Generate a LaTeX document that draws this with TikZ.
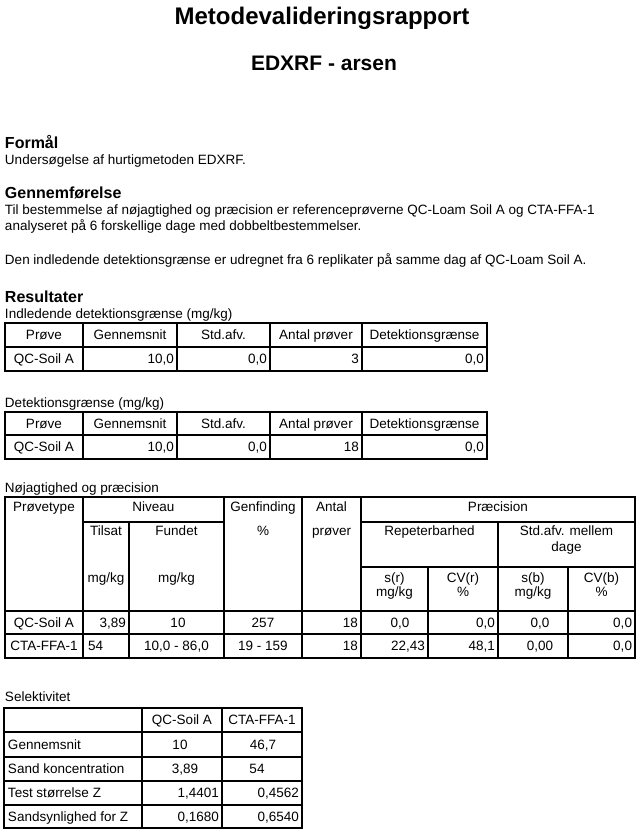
\documentclass[tikz,border=0pt]{standalone}
\usepackage{fontspec}
\setmainfont{Liberation Sans}
\begin{document}
\begin{tikzpicture}[x=1pt,y=-1pt,
  txt/.style={inner sep=0pt, outer sep=0pt, font=\fontsize{13.5}{15}\selectfont},
  body/.style={txt, anchor=base west},
  head/.style={txt, anchor=base west, font=\fontsize{16}{18}\selectfont\bfseries},
  cc/.style={txt, anchor=base},
  rr/.style={txt, anchor=base east},
  ll/.style={txt, anchor=base west},
  grid/.style={line width=1.4pt, black}]
\useasboundingbox (0,0) rectangle (641,832);

% titles
\node[txt, anchor=base, font=\fontsize{24}{28}\selectfont\bfseries] (title) at (322,25) {Metodevalideringsrapport};
\node[txt, anchor=base, font=\fontsize{21}{24}\selectfont\bfseries] (sub) at (324,71) {EDXRF - arsen};

% text
\node[head] (h1) at (5,149) {Formål};
\node[body] (b1) at (5,164) {Undersøgelse af hurtigmetoden EDXRF.};
\node[head] (h2) at (5,198) {Gennemførelse};
\node[body] (b2) at (5,214) {Til bestemmelse af nøjagtighed og præcision er referenceprøverne QC-Loam Soil A og CTA-FFA-1};
\node[body] (b3) at (5,230) {analyseret på 6 forskellige dage med dobbeltbestemmelser.};
\node[body] (b4) at (5,264) {Den indledende detektionsgrænse er udregnet fra 6 replikater på samme dag af QC-Loam Soil A.};
\node[head] (h3) at (5,302) {Resultater};
\node[body] (c1) at (5,318) {Indledende detektionsgrænse (mg/kg)};

% table 1
\draw[grid] (5,323) rectangle (487,371);
\draw[grid] (5,347) -- (487,347);
\foreach \x in {83,177,270,362} \draw[grid] (\x,323) -- (\x,371);
\node[cc] (t1a) at (44,339.5) {Prøve};
\node[cc] (t1b) at (130,339.5) {Gennemsnit};
\node[cc] (t1c) at (223.5,339.5) {Std.afv.};
\node[cc] (t1d) at (316,339.5) {Antal prøver};
\node[cc] (t1e) at (424.5,339.5) {Detektionsgrænse};
\node[cc] (t1f) at (44,363.5) {QC-Soil A};
\node[rr] (t1g) at (174,363.5) {10,0};
\node[rr] (t1h) at (267,363.5) {0,0};
\node[rr] (t1i) at (359,363.5) {3};
\node[rr] (t1j) at (484,363.5) {0,0};

% table 2
\node[body] (c2) at (5,407) {Detektionsgrænse (mg/kg)};
\draw[grid] (5,412) rectangle (487,459);
\draw[grid] (5,435) -- (487,435);
\foreach \x in {83,177,270,362} \draw[grid] (\x,412) -- (\x,459);
\node[cc] (t2a) at (44,428) {Prøve};
\node[cc] (t2b) at (130,428) {Gennemsnit};
\node[cc] (t2c) at (223.5,428) {Std.afv.};
\node[cc] (t2d) at (316,428) {Antal prøver};
\node[cc] (t2e) at (424.5,428) {Detektionsgrænse};
\node[cc] (t2f) at (44,451.5) {QC-Soil A};
\node[rr] (t2g) at (174,451.5) {10,0};
\node[rr] (t2h) at (267,451.5) {0,0};
\node[rr] (t2i) at (359,451.5) {18};
\node[rr] (t2j) at (484,451.5) {0,0};

% table 3
\node[body] (c3) at (5,492) {Nøjagtighed og præcision};
\draw[grid] (5,497) rectangle (635,658);
\draw[grid] (5,611) -- (635,611);
\draw[grid] (5,634) -- (635,634);
\draw[grid] (83,522) -- (224,522);
\draw[grid] (361,522) -- (635,522);
\draw[grid] (361,567) -- (635,567);
\foreach \x in {83,224,302,361} \draw[grid] (\x,497) -- (\x,658);
\foreach \x in {129,498} \draw[grid] (\x,522) -- (\x,658);
\foreach \x in {428,568} \draw[grid] (\x,567) -- (\x,658);
\node[cc] (n1) at (44,511) {Prøvetype};
\node[cc] (n2) at (153.5,511) {Niveau};
\node[cc] (n3) at (263,511) {Genfinding};
\node[cc] (n4) at (331.5,511) {Antal};
\node[cc] (n5) at (498,511) {Præcision};
\node[cc] (n6) at (106,535) {Tilsat};
\node[cc] (n7) at (176.5,535) {Fundet};
\node[cc] (n8) at (263,535) {\%};
\node[cc] (n9) at (331.5,535) {prøver};
\node[cc] (n10) at (429.5,535) {Repeterbarhed};
\node[cc] (n11) at (566.5,535) {Std.afv. mellem};
\node[cc] (n12) at (566.5,551) {dage};
\node[cc] (n13) at (106,582) {mg/kg};
\node[cc] (n14) at (176.5,582) {mg/kg};
\node[cc] (n15) at (394.5,582) {s(r)};
\node[cc] (n16) at (394.5,596) {mg/kg};
\node[cc] (n17) at (463,582) {CV(r)};
\node[cc] (n18) at (463,596) {\%};
\node[cc] (n19) at (533,582) {s(b)};
\node[cc] (n20) at (533,596) {mg/kg};
\node[cc] (n21) at (601.5,582) {CV(b)};
\node[cc] (n22) at (601.5,596) {\%};
% data rows
\node[cc] (d1) at (44,627) {QC-Soil A};
\node[rr] (d2) at (126,627) {3,89};
\node[cc] (d3) at (178,627) {10};
\node[cc] (d4) at (263,627) {257};
\node[rr] (d5) at (358,627) {18};
\node[cc] (d6) at (400,627) {0,0};
\node[rr] (d7) at (495,627) {0,0};
\node[cc] (d8) at (540,627) {0,0};
\node[rr] (d9) at (632,627) {0,0};
\node[cc] (e1) at (44,650.5) {CTA-FFA-1};
\node[ll] (e2) at (88,650.5) {54};
\node[cc] (e3) at (176.5,650.5) {10,0 - 86,0};
\node[cc] (e4) at (263,650.5) {19 - 159};
\node[rr] (e5) at (358,650.5) {18};
\node[rr] (e6) at (425,650.5) {22,43};
\node[rr] (e7) at (495,650.5) {48,1};
\node[cc] (e8) at (540,650.5) {0,00};
\node[rr] (e9) at (632,650.5) {0,0};

% table 4
\node[body] (c4) at (5,701) {Selektivitet};
\draw[grid] (4,708) rectangle (302,828);
\foreach \y in {732,757,781,805} \draw[grid] (4,\y) -- (302,\y);
\foreach \x in {142,222} \draw[grid] (\x,708) -- (\x,828);
\node[cc] (s1) at (182,724.5) {QC-Soil A};
\node[cc] (s2) at (262,724.5) {CTA-FFA-1};
\node[ll] (s3) at (8,749) {Gennemsnit};
\node[ll] (s4) at (8,773.5) {Sand koncentration};
\node[ll] (s5) at (8,797.5) {Test størrelse Z};
\node[ll] (s6) at (8,821) {Sandsynlighed for Z};
\node[cc] (s7) at (180,749) {10};
\node[cc] (s8) at (263,749) {46,7};
\node[cc] (s9) at (185,773.5) {3,89};
\node[cc] (s10) at (257,773.5) {54};
\node[rr] (s11) at (219,797.5) {1,4401};
\node[rr] (s12) at (299,797.5) {0,4562};
\node[rr] (s13) at (219,821) {0,1680};
\node[rr] (s14) at (299,821) {0,6540};
\end{tikzpicture}
\end{document}
